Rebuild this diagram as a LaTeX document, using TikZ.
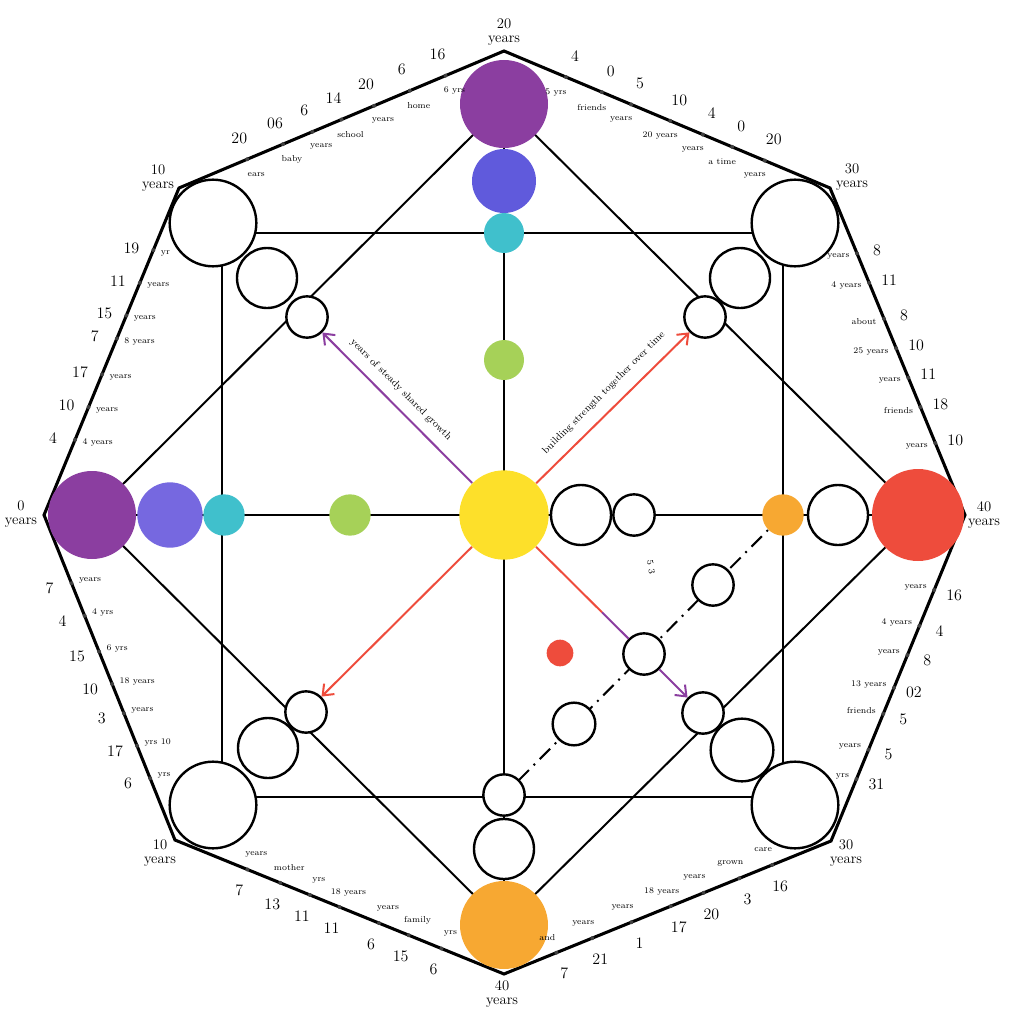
\documentclass[tikz,border=0pt]{standalone}
\usetikzlibrary{backgrounds,arrows.meta,calc}

\definecolor{plum}{RGB}{139,62,160}
\definecolor{iris}{RGB}{96,90,220}
\definecolor{lavend}{RGB}{118,104,224}
\definecolor{aqua}{RGB}{64,192,204}
\definecolor{leaf}{RGB}{166,209,88}
\definecolor{sun}{RGB}{253,224,42}
\definecolor{coral}{RGB}{238,76,60}
\definecolor{amber}{RGB}{247,168,50}

\tikzset{every picture/.style={line width=0.75pt},
	ring/.style={circle, draw, line width=1.8pt, fill=white, inner sep=0pt},
	blob/.style={circle, inner sep=0pt},
	bigsz/.style={minimum size=65pt},
	midsz/.style={minimum size=45pt},
	smlsz/.style={minimum size=31pt},
	spoke/.style={line width=1.5pt},
	rim/.style={line width=2.3pt},
	pointer/.style={line width=1.5pt, -{Straight Barb[length=7pt,width=11pt]}},
	numlab/.style={font=\fontsize{12}{12}\selectfont, inner sep=0.75pt},
	yrlab/.style={font=\fontsize{6.5}{7}\selectfont, inner sep=0.75pt},
	cornerlab/.style={font=\fontsize{11}{10}\selectfont, align=center, inner sep=0.75pt},
	arrlab/.style={font=\fontsize{7.5}{7.5}\selectfont, inner sep=1.5pt}
}

\begin{document}
\begin{tikzpicture}[x=0.75pt,y=0.75pt,yscale=-1,xscale=1]
	\useasboundingbox (0,0) rectangle (1024,1024);

	% octagon corners
	\coordinate (tv) at (504,51);
	\coordinate (trv) at (830,188);
	\coordinate (rv) at (965,515);
	\coordinate (brv) at (831,841);
	\coordinate (bv) at (504,974);
	\coordinate (blv) at (175,840);
	\coordinate (lv) at (44,515);
	\coordinate (tlv) at (179,188);

	%Shape: Circle -- centre
	\node[blob, fill=sun, minimum size=67pt] (ctr) at (504,515) {};
	%Shape: Circle -- top column
	\node[blob, fill=plum, minimum size=66pt] (topp) at (504,104) {};
	\node[blob, fill=iris, minimum size=48pt] (topb) at (504,181) {};
	\node[blob, fill=aqua, minimum size=30pt] (topc) at (504,233) {};
	\node[blob, fill=leaf, minimum size=30pt] (topg) at (504,360) {};
	%Shape: Circle -- left row
	\node[blob, fill=plum, minimum size=66pt] (lefp) at (92,515) {};
	\node[blob, fill=lavend, minimum size=49pt] (lefb) at (170,515) {};
	\node[blob, fill=aqua, smlsz] (lefc) at (224,515) {};
	\node[blob, fill=leaf, smlsz] (lefg) at (350,515) {};
	%Shape: Circle -- right row
	\node[ring, midsz] (rig1) at (581,515) {};
	\node[ring, smlsz] (rig2) at (634,515) {};
	\node[blob, fill=amber, smlsz] (rigo) at (783,515) {};
	\node[ring, midsz] (rig3) at (838,515) {};
	\node[blob, fill=coral, minimum size=69pt] (rigr) at (918,515) {};
	%Shape: Circle -- bottom column
	\node[ring, smlsz] (botw) at (504,795) {};
	\node[ring, midsz] (botm) at (504,849) {};
	\node[blob, fill=amber, minimum size=66pt] (boto) at (504,925) {};
	%Shape: Circle -- corners
	\node[ring, bigsz] (tlb) at (213,223) {};
	\node[ring, midsz] (tlm) at (267,278) {};
	\node[ring, smlsz] (tls) at (307,317) {};
	\node[ring, bigsz] (trb) at (795,223) {};
	\node[ring, midsz] (trm) at (740,278) {};
	\node[ring, smlsz] (trs) at (705,317) {};
	\node[ring, bigsz] (blb) at (213,805) {};
	\node[ring, midsz] (blm) at (268,748) {};
	\node[ring, smlsz] (bls) at (306,712) {};
	\node[ring, bigsz] (brb) at (795,805) {};
	\node[ring, minimum size=47pt] (brm) at (742,750) {};
	\node[ring, smlsz] (brs) at (703,713) {};
	%Shape: Circle -- dashed chain
	\node[ring, smlsz] (dsh1) at (713,585) {};
	\node[ring, smlsz] (dsh2) at (644,654) {};
	\node[ring, minimum size=32pt] (dsh3) at (574,724) {};
	\node[blob, fill=coral, minimum size=20pt] (heart) at (560,653) {};

	\begin{scope}[on background layer]
		\draw[rim] (tv) -- (trv) -- (rv) -- (brv) -- (bv) -- (blv) -- (lv) -- (tlv) -- cycle;
		\draw[spoke] (222,233) rectangle (783,797);
		\draw[spoke] (topp.center) -- (boto.center);
		\draw[spoke] (lefp.center) -- (rigr.center);
		\draw[spoke] (topp.center) -- (lefp.center) -- (boto.center) -- (rigr.center) -- cycle;
		\draw[spoke, dash pattern=on 11pt off 5pt on 1.5pt off 5pt] (rigo.center) -- (botw.center);
	\end{scope}

	% arrows from the centre
	\draw[pointer, plum] (ctr) -- (tls);
	\draw[pointer, coral] (ctr) -- (trs);
	\draw[pointer, coral] (ctr) -- (bls);
	\draw[line width=1.5pt, coral] (ctr) -- ($(ctr.center)!0.7!(dsh2.center)$) coordinate (midred);
	\draw[line width=1.5pt, plum] (midred) -- (dsh2);
	\draw[pointer, plum] (dsh2) -- (brs);

	% Text Node -- arrow labels
	\node[arrlab, rotate=-45] (arrtxt1) at (401,390) {years of steady shared growth};
	\node[arrlab, rotate=45] (arrtxt2) at (604,393) {building strength together over time};
	\node[yrlab, font=\fontsize{7}{7}\selectfont, rotate=-80] (note) at (651,567) {5 3};

	% Text Node -- corner labels
	\node[cornerlab] (lbt) at (504,32) {20\\years};
	\node[cornerlab] (lbtr) at (852,177) {30\\years};
	\node[cornerlab] (lbr) at (984,515) {40\\years};
	\node[cornerlab] (lbbr) at (846,853) {30\\years};
	\node[cornerlab] (lbb) at (502,994) {40\\years};
	\node[cornerlab] (lbbl) at (160,853) {10\\years};
	\node[cornerlab] (lbl) at (21,514) {0\\years};
	\node[cornerlab] (lbtl) at (158,178) {10\\years};

	% ticks on the rim (node shifts are not flipped: +y is up)
	\foreach \p/\n/\t [count=\i] in {0.21/20/ears, 0.32/06/baby, 0.41/6/years, 0.50/14/school, 0.60/20/years, 0.71/6/home, 0.82/16/6 yrs}{
		\path (tlv) -- (tv) coordinate[pos=\p] (tka\i) node[numlab, pos=\p, shift={(-8,21)}] (nma\i) {\n} node[yrlab, pos=\p, shift={(9,-15)}] (yra\i) {\t};
		\fill[black!75] (tka\i) circle (2);}
	\foreach \p/\n/\t [count=\i] in {0.19/4/5 yrs, 0.30/0/friends, 0.39/5/years, 0.51/10/20 years, 0.61/4/years, 0.70/0/a time, 0.80/20/years}{
		\path (tv) -- (trv) coordinate[pos=\p] (tkb\i) node[numlab, pos=\p, shift={(9,21)}] (nmb\i) {\n} node[yrlab, pos=\p, shift={(-10,-15)}] (yrb\i) {\t};
		\fill[black!75] (tkb\i) circle (2);}
	\foreach \p/\n/\t [count=\i] in {0.23/4/4 years, 0.33/10/years, 0.43/17/years, 0.54/7/8 years, 0.61/15/years, 0.71/11/years, 0.81/19/yr}{
		\path (lv) -- (tlv) coordinate[pos=\p] (tkc\i) node[numlab, pos=\p, shift={(-22,2)}] (nmc\i) {\n} node[yrlab, anchor=west, pos=\p, shift={(6,-3)}] (yrc\i) {\t};
		\fill[black!75] (tkc\i) circle (2);}
	\foreach \p/\n/\t [count=\i] in {0.22/10/years, 0.33/18/friends, 0.42/11/years, 0.51/10/25 years, 0.60/8/about, 0.71/11/4 years, 0.80/8/years}{
		\path (rv) -- (trv) coordinate[pos=\p] (tkd\i) node[numlab, pos=\p, shift={(20,3)}] (nmd\i) {\n} node[yrlab, anchor=east, pos=\p, shift={(-6,-3)}] (yrd\i) {\t};
		\fill[black!75] (tkd\i) circle (2);}
	\foreach \p/\n/\t [count=\i] in {0.21/7/years, 0.31/4/4 yrs, 0.42/15/6 yrs, 0.52/10/18 years, 0.61/3/years, 0.71/17/yrs 10, 0.81/6/yrs}{
		\path (lv) -- (blv) coordinate[pos=\p] (tke\i) node[numlab, pos=\p, shift={(-22,-5)}] (nme\i) {\n} node[yrlab, anchor=west, pos=\p, shift={(6,3)}] (yre\i) {\t};
		\fill[black!75] (tke\i) circle (2);}
	\foreach \p/\n/\t [count=\i] in {0.23/16/years, 0.34/4/4 years, 0.43/8/years, 0.53/02/13 years, 0.61/5/friends, 0.72/5/years, 0.81/31/yrs}{
		\path (rv) -- (brv) coordinate[pos=\p] (tkf\i) node[numlab, pos=\p, shift={(20,-5)}] (nmf\i) {\n} node[yrlab, anchor=east, pos=\p, shift={(-6,3)}] (yrf\i) {\t};
		\fill[black!75] (tkf\i) circle (2);}
	\foreach \p/\n/\t [count=\i] in {0.22/7/years, 0.32/13/mother, 0.41/11/yrs, 0.50/11/18 years, 0.62/6/years, 0.71/15/family, 0.81/6/yrs}{
		\path (blv) -- (bv) coordinate[pos=\p] (tkg\i) node[numlab, pos=\p, shift={(-8,-21)}] (nmg\i) {\n} node[yrlab, pos=\p, shift={(9,15)}] (yrg\i) {\t};
		\fill[black!75] (tkg\i) circle (2);}
	\foreach \p/\n/\t [count=\i] in {0.16/7/and, 0.27/21/years, 0.39/1/years, 0.51/17/18 years, 0.61/20/years, 0.72/3/grown, 0.82/16/care}{
		\path (bv) -- (brv) coordinate[pos=\p] (tkh\i) node[numlab, pos=\p, shift={(8,-21)}] (nmh\i) {\n} node[yrlab, pos=\p, shift={(-9,15)}] (yrh\i) {\t};
		\fill[black!75] (tkh\i) circle (2);}

\end{tikzpicture}
\end{document}
